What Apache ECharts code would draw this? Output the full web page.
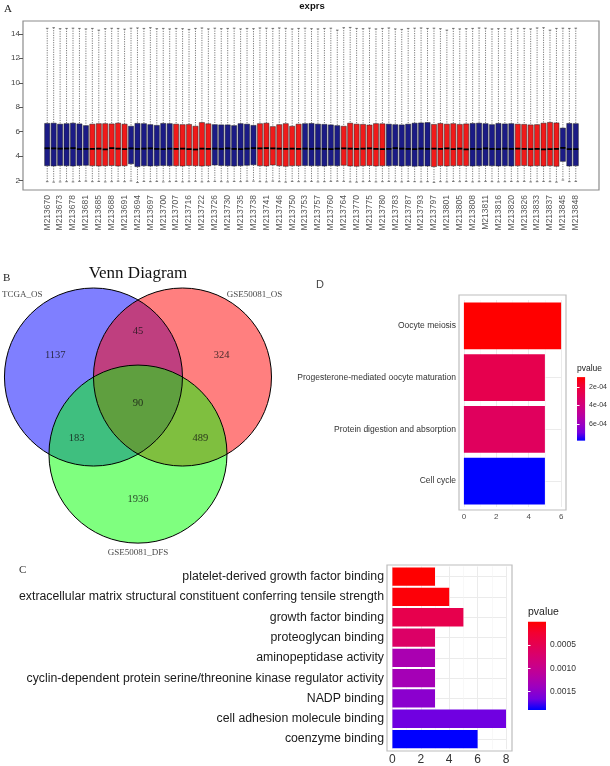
<!DOCTYPE html>
<html>
<head>
<meta charset="utf-8">
<title>exprs / Venn / enrichment</title>
<script src="https://cdn.jsdelivr.net/npm/echarts@6/dist/echarts.min.js"></script>
<style>
  html, body { margin: 0; padding: 0; background: #fff; }
  #chart { width: 610px; height: 766px; }
</style>
</head>
<body>
<div id="chart"></div>
<script>
// A: expression boxplots, one box per sample
const sampleNums = [
  670, 672, 673, 675, 678, 680, 681, 683, 685, 686,
  688, 690, 691, 692, 694, 695, 697, 699, 700, 704,
  707, 711, 716, 719, 722, 724, 726, 728, 730, 733,
  735, 736, 738, 740, 741, 743, 746, 748, 750, 752,
  753, 755, 757, 759, 760, 762, 764, 767, 770, 772,
  775, 777, 780, 781, 783, 785, 787, 790, 793, 795,
  797, 799, 801, 803, 805, 806, 808, 810, 811, 813,
  816, 818, 820, 823, 826, 829, 833, 835, 837, 841,
  845, 846, 848,
]
const sampleIds = sampleNums.map((n) => 'GSM213' + n)
// 0 = blue group, 1 = red group
const sampleGroup = [
  0, 0, 0, 0, 0, 0, 0, 1, 1, 1, 1, 1, 1, 0, 0, 0, 0, 0, 0, 0,
  1, 1, 1, 1, 1, 1, 0, 0, 0, 0, 0, 0, 0, 1, 1, 1, 1, 1, 1, 1,
  0, 0, 0, 0, 0, 0, 1, 1, 1, 1, 1, 1, 1, 0, 0, 0, 0, 0, 0, 0,
  1, 1, 1, 1, 1, 1, 0, 0, 0, 0, 0, 0, 0, 1, 1, 1, 1, 1, 1, 1,
  0, 0, 0,
]
const whiskLow = [
  1.92, 1.88, 1.90, 1.92, 1.90, 1.94, 1.96, 1.92, 1.94, 1.90, 1.92, 1.96, 1.92,
  1.98, 1.85, 1.94, 1.92, 1.94, 1.90, 1.92, 1.94, 1.90, 1.92, 1.95, 1.90, 1.92,
  1.94, 1.92, 1.90, 1.94, 1.92, 1.95, 1.96, 1.92, 1.90, 1.96, 1.92, 1.88, 1.94, 1.92,
  1.92, 1.94, 1.90, 1.92, 1.94, 1.96, 1.94, 1.90, 1.88, 1.92, 1.94, 1.90, 1.92,
  1.94, 1.92, 1.90, 1.94, 1.92, 1.90, 1.92, 1.86, 1.92, 1.90, 1.94, 1.92, 1.94,
  1.90, 1.92, 1.94, 1.92, 1.90, 1.92, 1.94, 1.92, 1.94, 1.90, 1.92, 1.94, 1.92, 1.88,
  2.05, 1.92, 1.94,
]
const hingeLow = [
  3.22, 3.20, 3.24, 3.22, 3.20, 3.24, 3.26, 3.22, 3.20, 3.22, 3.24, 3.20, 3.22,
  3.38, 3.15, 3.22, 3.20, 3.22, 3.24, 3.22, 3.22, 3.20, 3.24, 3.22, 3.20, 3.22,
  3.28, 3.24, 3.22, 3.20, 3.22, 3.26, 3.30, 3.22, 3.20, 3.28, 3.22, 3.18, 3.22, 3.22,
  3.24, 3.22, 3.22, 3.20, 3.24, 3.22, 3.26, 3.20, 3.18, 3.22, 3.24, 3.20, 3.22,
  3.22, 3.24, 3.20, 3.22, 3.18, 3.20, 3.20, 3.15, 3.22, 3.20, 3.22, 3.24, 3.22,
  3.20, 3.22, 3.24, 3.22, 3.20, 3.22, 3.20, 3.22, 3.24, 3.20, 3.22, 3.20, 3.22, 3.18,
  3.58, 3.20, 3.22,
]
const medians = [
  4.65, 4.64, 4.62, 4.63, 4.66, 4.58, 4.60, 4.60, 4.62, 4.56, 4.66, 4.62, 4.58,
  4.64, 4.60, 4.62, 4.64, 4.60, 4.58, 4.62, 4.60, 4.62, 4.58, 4.55, 4.62, 4.60,
  4.62, 4.60, 4.64, 4.60, 4.58, 4.62, 4.66, 4.64, 4.66, 4.64, 4.62, 4.60, 4.62, 4.60,
  4.62, 4.60, 4.62, 4.60, 4.58, 4.62, 4.64, 4.62, 4.60, 4.62, 4.64, 4.60, 4.58,
  4.60, 4.66, 4.62, 4.60, 4.58, 4.62, 4.60, 4.62, 4.60, 4.64, 4.58, 4.62, 4.56,
  4.60, 4.58, 4.64, 4.60, 4.58, 4.62, 4.60, 4.62, 4.60, 4.58, 4.60, 4.56, 4.58, 4.60,
  4.68, 4.58, 4.58,
]
const hingeHigh = [
  6.68, 6.70, 6.62, 6.66, 6.70, 6.64, 6.50, 6.62, 6.66, 6.66, 6.64, 6.70, 6.62,
  6.45, 6.68, 6.66, 6.58, 6.52, 6.68, 6.66, 6.62, 6.58, 6.60, 6.45, 6.75, 6.65,
  6.58, 6.56, 6.56, 6.50, 6.66, 6.62, 6.52, 6.66, 6.70, 6.42, 6.58, 6.66, 6.45, 6.62,
  6.66, 6.68, 6.62, 6.60, 6.56, 6.50, 6.45, 6.70, 6.62, 6.60, 6.55, 6.66, 6.65,
  6.62, 6.58, 6.56, 6.62, 6.70, 6.72, 6.75, 6.60, 6.68, 6.62, 6.66, 6.60, 6.64,
  6.68, 6.70, 6.66, 6.58, 6.68, 6.64, 6.66, 6.62, 6.60, 6.56, 6.58, 6.70, 6.76, 6.72,
  6.30, 6.68, 6.66,
]
const whiskHigh = [
  14.45, 14.50, 14.42, 14.44, 14.46, 14.44, 14.40, 14.44, 14.30, 14.42, 14.45, 14.44, 14.38,
  14.46, 14.48, 14.44, 14.50, 14.42, 14.44, 14.40, 14.44, 14.42, 14.36, 14.44, 14.48, 14.40,
  14.46, 14.42, 14.44, 14.46, 14.40, 14.44, 14.42, 14.48, 14.46, 14.44, 14.48, 14.45, 14.40, 14.44,
  14.46, 14.42, 14.40, 14.44, 14.46, 14.30, 14.50, 14.52, 14.44, 14.42, 14.46, 14.40, 14.44,
  14.48, 14.40, 14.36, 14.44, 14.46, 14.48, 14.44, 14.46, 14.42, 14.30, 14.44, 14.40, 14.42,
  14.44, 14.48, 14.46, 14.40, 14.42, 14.44, 14.40, 14.46, 14.44, 14.40, 14.48, 14.50, 14.30, 14.44,
  14.46, 14.44, 14.46,
]
const groupColors = ['#1b1b86', '#f01a1a']

// B: Venn diagram (unit circles, centre distance 1)
const vennSets = ['TCGA_OS', 'GSE50081_OS', 'GSE50081_DFS']
const vennCircles = [[0, 0, 1], [1, 0, 1], [0.5, -0.866, 1]]
const vennFills = ['rgba(0,0,255,0.5)', 'rgba(255,0,0,0.5)', 'rgba(0,255,0,0.5)']
const vennSetPos = [[-0.8, 0.92], [1.81, 0.92], [0.5, -1.97]]
const vennCounts = [1137, 45, 324, 90, 183, 489, 1936]
const vennCountPos = [[-0.43, 0.25], [0.5, 0.51], [1.44, 0.25], [0.5, -0.29], [-0.19, -0.69], [1.2, -0.69], [0.5, -1.37]]

// D: KEGG pathways
const keggTerms = ['Oocyte meiosis', 'Progesterone-mediated oocyte maturation', 'Protein digestion and absorption', 'Cell cycle']
const keggCounts = [6, 5, 5, 5]
const keggP = [0.000093, 0.000262, 0.000305, 0.00078]
const keggTicks = [0.0002, 0.0004, 0.0006]
const keggTickLabels = ['2e-04', '4e-04', '6e-04']

// C: GO terms
const goTerms = [
  'platelet-derived growth factor binding',
  'extracellular matrix structural constituent conferring tensile strength',
  'growth factor binding',
  'proteoglycan binding',
  'aminopeptidase activity',
  'cyclin-dependent protein serine/threonine kinase regulator activity',
  'NADP binding',
  'cell adhesion molecule binding',
  'coenzyme binding',
]
const goCounts = [3, 4, 5, 3, 3, 3, 3, 8, 6]
const goP = [0.000002, 0.00004, 0.00046, 0.00066, 0.00128, 0.00132, 0.00151, 0.00166, 0.00189]
const goTicks = [0.0005, 0.001, 0.0015]
const goTickLabels = ['0.0005', '0.0010', '0.0015']

// red -> blue, interpolated in Lab like ggplot
const pColors = ['#FF0000', '#F30031', '#E6004F', '#D9006C', '#CA0088', '#B500A5', '#9A00C2', '#7300E0', '#0000FF']

const SANS = 'Liberation Sans, Arial, sans-serif'
const SERIF = 'Liberation Serif, Times New Roman, serif'

const hidden = (gridIndex) => ({ gridIndex, type: 'value', show: false })

const boxData = sampleIds.map((s, i) => [i, whiskLow[i], hingeLow[i], medians[i], hingeHigh[i], whiskHigh[i], sampleGroup[i]])

function renderBox(params, api) {
  const x = api.value(0)
  const w = api.size([1, 0])[0] * 0.8
  const [cx, yLo] = api.coord([x, api.value(1)])
  const yQ1 = api.coord([x, api.value(2)])[1]
  const yMd = api.coord([x, api.value(3)])[1]
  const yQ3 = api.coord([x, api.value(4)])[1]
  const yHi = api.coord([x, api.value(5)])[1]
  const whisk = { stroke: '#444', lineWidth: 0.7, lineDash: [1.2, 1.2] }
  const cap = { stroke: '#444', lineWidth: 0.7 }
  return {
    type: 'group',
    children: [
      { type: 'line', shape: { x1: cx, y1: yHi, x2: cx, y2: yQ3 }, style: whisk },
      { type: 'line', shape: { x1: cx, y1: yQ1, x2: cx, y2: yLo }, style: whisk },
      { type: 'line', shape: { x1: cx - w / 4, y1: yHi, x2: cx + w / 4, y2: yHi }, style: cap },
      { type: 'line', shape: { x1: cx - w / 4, y1: yLo, x2: cx + w / 4, y2: yLo }, style: cap },
      {
        type: 'rect',
        shape: { x: cx - w / 2, y: yQ3, width: w, height: yQ1 - yQ3 },
        style: { fill: groupColors[api.value(6)], stroke: '#202020', lineWidth: 0.5 },
      },
      { type: 'line', shape: { x1: cx - w / 2, y1: yMd, x2: cx + w / 2, y2: yMd }, style: { stroke: '#000', lineWidth: 1.8 } },
    ],
  }
}

function renderCircle(fill) {
  return (params, api) => {
    const c = api.coord([api.value(0), api.value(1)])
    const r = api.value(2)
    return {
      type: 'ellipse',
      shape: { cx: c[0], cy: c[1], rx: api.size([r, 0])[0], ry: api.size([0, r])[1] },
      style: fill
        ? { fill: vennFills[params.dataIndex], stroke: null }
        : { fill: null, stroke: '#000', lineWidth: 1 },
    }
  }
}

function renderColorbar(params, api) {
  const a = api.coord([api.value(0), api.value(1)])
  const b = api.coord([api.value(2), api.value(3)])
  const stops = pColors.map((c, i) => ({ offset: i / (pColors.length - 1), color: c }))
  return {
    type: 'rect',
    shape: { x: a[0], y: a[1], width: b[0] - a[0], height: b[1] - a[1] },
    style: { fill: new echarts.graphic.LinearGradient(0, 0, 0, 1, stops) },
  }
}

function barAxisX(gridIndex, max, offset, fontSize, color) {
  return {
    gridIndex,
    type: 'value',
    min: 0,
    max,
    interval: 2,
    offset,
    axisLine: { show: false },
    axisTick: { length: 3, lineStyle: { color: '#333' } },
    axisLabel: { fontSize, color, margin: 3, fontFamily: SANS },
    splitLine: { lineStyle: { color: '#ebebeb', width: 1 } },
    minorTick: { show: false, splitNumber: 2 },
    minorSplitLine: { show: true, lineStyle: { color: '#f3f3f3', width: 0.6 } },
  }
}

function barAxisY(gridIndex, terms, offset, fontSize, color) {
  return {
    gridIndex,
    type: 'category',
    data: terms,
    inverse: true,
    offset,
    axisLine: { show: false },
    axisTick: { alignWithLabel: true, interval: 0, length: 3, lineStyle: { color: '#333' } },
    axisLabel: { interval: 0, fontSize, color, margin: 3, fontFamily: SANS },
    splitLine: { show: true, interval: 0, alignWithLabel: true, lineStyle: { color: '#ebebeb' } },
  }
}

function colorbarAxis(gridIndex, ticks, labels, position, fontSize) {
  return {
    gridIndex,
    type: 'value',
    min: ticks[0],
    max: ticks[ticks.length - 1],
    interval: ticks[1] - ticks[0],
    inverse: true,
    position,
    z: 10,
    axisLine: { show: false },
    axisTick: { inside: true, length: 2.5, lineStyle: { color: '#fff', width: 1 } },
    axisLabel: {
      show: position === 'right',
      fontSize,
      color: '#333',
      margin: 4,
      fontFamily: SANS,
      formatter: (v) => labels[ticks.findIndex((t) => Math.abs(t - v) < 1e-9)],
    },
    splitLine: { show: false },
  }
}

const chart = echarts.init(document.getElementById('chart'))
chart.setOption({
  animation: false,
  backgroundColor: '#fff',
  textStyle: { fontFamily: SANS },
  grid: [
    { left: 23, top: 21, width: 576, height: 169, show: true, borderColor: '#8c8c8c', borderWidth: 1.2, backgroundColor: 'transparent' },
    { left: 44, top: 33.8, width: 535, height: 146.9 },
    { left: 0, top: 261.3, width: 298.2, height: 298.2 },
    { left: 459, top: 295, width: 107, height: 215, show: true, borderColor: '#bdbdbd', borderWidth: 1.2, backgroundColor: 'transparent' },
    { left: 463.9, top: 300, width: 97.2, height: 207 },
    { left: 577, top: 387, width: 12, height: 37 },
    { left: 387, top: 565, width: 125, height: 186, show: true, borderColor: '#bdbdbd', borderWidth: 1.2, backgroundColor: 'transparent' },
    { left: 392.4, top: 566.5, width: 113.6, height: 182.7 },
    { left: 528, top: 645, width: 18, height: 46.7 },
  ],
  xAxis: [
    hidden(0),
    {
      gridIndex: 1,
      type: 'category',
      data: sampleIds,
      offset: 9.3,
      axisLine: { show: false },
      axisTick: { interval: 0, alignWithLabel: true, length: 4, lineStyle: { color: '#555' } },
      axisLabel: { interval: 1, rotate: 90, fontSize: 8.5, color: '#555', margin: 5, formatter: (v) => v.slice(2) },
      splitLine: { show: false },
    },
    { gridIndex: 2, type: 'value', min: -1.05, max: 2.3, show: false },
    hidden(3),
    barAxisX(4, 6, 3, 8, '#4d4d4d'),
    { gridIndex: 5, type: 'value', min: 0, max: 1, show: false },
    hidden(6),
    barAxisX(7, 8, 1.8, 12, '#333'),
    { gridIndex: 8, type: 'value', min: 0, max: 1, show: false },
  ],
  yAxis: [
    hidden(0),
    {
      gridIndex: 1,
      type: 'value',
      min: 2,
      max: 14,
      interval: 2,
      offset: 21,
      axisLine: { show: false },
      axisTick: { show: true, length: 4, lineStyle: { color: '#555' } },
      axisLabel: { fontSize: 8, color: '#444', margin: 3 },
      splitLine: { show: false },
    },
    { gridIndex: 2, type: 'value', min: -2.05, max: 1.3, show: false },
    hidden(3),
    barAxisY(4, keggTerms, 4.9, 8.5, '#333'),
    colorbarAxis(5, keggTicks, keggTickLabels, 'right', 7),
    colorbarAxis(5, keggTicks, keggTickLabels, 'left', 7),
    hidden(6),
    barAxisY(7, goTerms, 5.4, 12.3, '#1a1a1a'),
    colorbarAxis(8, goTicks, goTickLabels, 'right', 8.5),
    colorbarAxis(8, goTicks, goTickLabels, 'left', 8.5),
  ],
  visualMap: [
    { type: 'continuous', show: false, seriesIndex: 4, dimension: 2, min: Math.min(...keggP), max: Math.max(...keggP), inRange: { color: pColors } },
    { type: 'continuous', show: false, seriesIndex: 5, dimension: 2, min: Math.min(...goP), max: Math.max(...goP), inRange: { color: pColors } },
  ],
  series: [
    {
      type: 'custom',
      xAxisIndex: 1,
      yAxisIndex: 1,
      clip: false,
      data: boxData,
      encode: { x: 0, y: [1, 2, 3, 4, 5] },
      renderItem: renderBox,
    },
    { type: 'custom', xAxisIndex: 2, yAxisIndex: 2, clip: false, data: vennCircles, encode: { x: 0, y: 1 }, renderItem: renderCircle(true) },
    { type: 'custom', xAxisIndex: 2, yAxisIndex: 2, clip: false, data: vennCircles, encode: { x: 0, y: 1 }, renderItem: renderCircle(false) },
    {
      type: 'scatter',
      xAxisIndex: 2,
      yAxisIndex: 2,
      symbolSize: 0,
      silent: true,
      label: { show: true, position: 'inside', formatter: (p) => p.name, color: '#111', fontFamily: SERIF },
      data: [
        ...vennSets.map((s, i) => ({ name: s, value: vennSetPos[i], label: { fontSize: 9 } })),
        ...vennCounts.map((n, i) => ({ name: String(n), value: vennCountPos[i], label: { fontSize: 10.5 } })),
      ],
    },
    {
      type: 'bar',
      xAxisIndex: 4,
      yAxisIndex: 4,
      barCategoryGap: '10%',
      encode: { x: 0, y: 1 },
      data: keggTerms.map((t, i) => [keggCounts[i], t, keggP[i]]),
    },
    {
      type: 'bar',
      xAxisIndex: 7,
      yAxisIndex: 8,
      barCategoryGap: '10%',
      encode: { x: 0, y: 1 },
      data: goTerms.map((t, i) => [goCounts[i], t, goP[i]]),
    },
    {
      type: 'custom',
      xAxisIndex: 5,
      yAxisIndex: 5,
      clip: false,
      data: [[0, Math.min(...keggP), 1, Math.max(...keggP)]],
      encode: { x: [0, 2], y: [1, 3] },
      renderItem: renderColorbar,
    },
    {
      type: 'custom',
      xAxisIndex: 8,
      yAxisIndex: 9,
      clip: false,
      data: [[0, Math.min(...goP), 1, Math.max(...goP)]],
      encode: { x: [0, 2], y: [1, 3] },
      renderItem: renderColorbar,
    },
  ],
  graphic: [
    { type: 'text', x: 312, y: 6, style: { text: 'exprs', font: 'bold 9.5px ' + SANS, fill: '#111', align: 'center', verticalAlign: 'middle', textAlign: 'center', textVerticalAlign: 'middle' } },
    { type: 'text', x: 4, y: 9, style: { text: 'A', font: '11px ' + SERIF, fill: '#222', verticalAlign: 'middle', textVerticalAlign: 'middle' } },
    { type: 'text', x: 3, y: 278, style: { text: 'B', font: '11px ' + SERIF, fill: '#222', verticalAlign: 'middle', textVerticalAlign: 'middle' } },
    { type: 'text', x: 138, y: 274, style: { text: 'Venn Diagram', font: '17px ' + SERIF, fill: '#111', align: 'center', verticalAlign: 'middle', textAlign: 'center', textVerticalAlign: 'middle' } },
    { type: 'text', x: 316, y: 285, style: { text: 'D', font: '11px ' + SANS, fill: '#444', verticalAlign: 'middle', textVerticalAlign: 'middle' } },
    { type: 'text', x: 577, y: 369, style: { text: 'pvalue', font: '8.5px ' + SANS, fill: '#222', verticalAlign: 'middle', textVerticalAlign: 'middle' } },
    { type: 'text', x: 19, y: 570, style: { text: 'C', font: '11px ' + SERIF, fill: '#333', verticalAlign: 'middle', textVerticalAlign: 'middle' } },
    { type: 'text', x: 528, y: 612, style: { text: 'pvalue', font: '10.5px ' + SANS, fill: '#222', verticalAlign: 'middle', textVerticalAlign: 'middle' } },
  ],
})
</script>
</body>
</html>
